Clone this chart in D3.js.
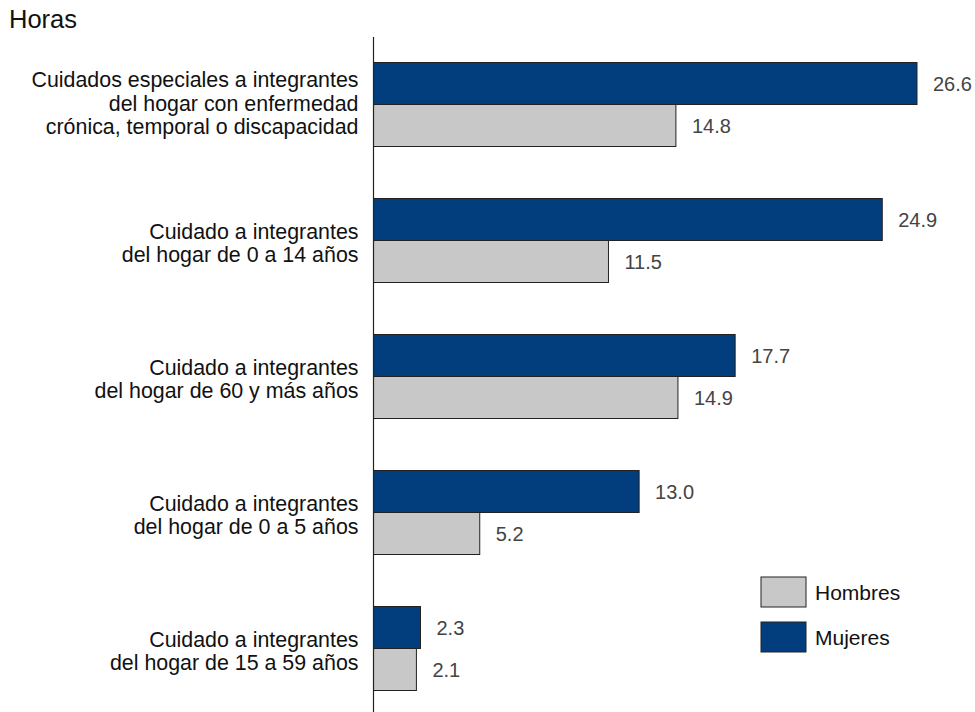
<!DOCTYPE html>
<html><head><meta charset="utf-8">
<script src="https://cdn.jsdelivr.net/npm/d3@7"></script>
<style>body{margin:0;background:#fff}svg{display:block;font-family:"Liberation Sans",Arial,sans-serif}</style>
</head><body>
<svg id="c" width="975" height="712"></svg>
<script>
const categories = [
  ["Cuidados especiales a integrantes","del hogar con enfermedad","crónica, temporal o discapacidad"],
  ["Cuidado a integrantes","del hogar de 0 a 14 años"],
  ["Cuidado a integrantes","del hogar de 60 y más años"],
  ["Cuidado a integrantes","del hogar de 0 a 5 años"],
  ["Cuidado a integrantes","del hogar de 15 a 59 años"]
];
const mujeres = [26.6, 24.9, 17.7, 13.0, 2.3];
const hombres = [14.8, 11.5, 14.9, 5.2, 2.1];
const seriesNames = ["Mujeres","Hombres"];
const legendOrder = ["Hombres","Mujeres"];
const yTitle = "Horas";

const colors = {Mujeres:"#023e7d", Hombres:"#c8c8c8"};
const svg = d3.select("#c");
const keys = categories.map((c,i)=>i);
const x = d3.scaleLinear().domain([0,26.6]).range([373.5,917]);
const y0 = d3.scaleBand().domain(keys).range([36,716]).paddingInner(52/136).paddingOuter(26/136);
const y1 = d3.scaleBand().domain(seriesNames).range([0,y0.bandwidth()]);

const data = keys.flatMap(i=>[
  {i, s:"Mujeres", v:mujeres[i]},
  {i, s:"Hombres", v:hombres[i]}
]);

svg.append("text").attr("x",9).attr("y",28).attr("font-size",25.5).attr("fill","#111").text(yTitle);

svg.selectAll("rect.bar").data(data).join("rect").attr("class","bar")
  .attr("x",x(0)).attr("y",d=>y0(d.i)+y1(d.s)+0.5)
  .attr("width",d=>x(d.v)-x(0)).attr("height",y1.bandwidth())
  .attr("fill",d=>colors[d.s]).attr("stroke","#222").attr("stroke-width",1);

svg.selectAll("text.val").data(data).join("text").attr("class","val")
  .attr("x",d=>x(d.v)+16).attr("y",d=>y0(d.i)+y1(d.s)+y1.bandwidth()/2+8)
  .attr("font-size",20).attr("fill","#444").text(d=>d3.format(".1f")(d.v));

svg.append("line").attr("x1",373.5).attr("x2",373.5).attr("y1",37).attr("y2",712)
  .attr("stroke","#222").attr("stroke-width",1.2);

const cat = svg.selectAll("g.cat").data(keys).join("g").attr("class","cat");
cat.each(function(i){
  const lines = categories[i];
  const c = y0(i)+y0.bandwidth()/2;
  const k = lines.length === 3 ? 6.5 : 10.5;
  d3.select(this).selectAll("text").data(lines).join("text")
    .attr("x",358.5).attr("text-anchor","end").attr("font-size",21.4).attr("fill","#111")
    .attr("y",(d,j)=>c+(j-(lines.length-1)/2)*23.5+k).text(d=>d);
});

const lg = svg.selectAll("g.lg").data(legendOrder).join("g").attr("class","lg")
  .attr("transform",(d,j)=>`translate(761,${577+j*45})`);
lg.append("rect").attr("width",45).attr("height",30).attr("fill",d=>colors[d]).attr("stroke","#222");
lg.append("text").attr("x",54).attr("y",22.5).attr("font-size",21).attr("fill","#111").text(d=>d);
</script>
</body></html>
